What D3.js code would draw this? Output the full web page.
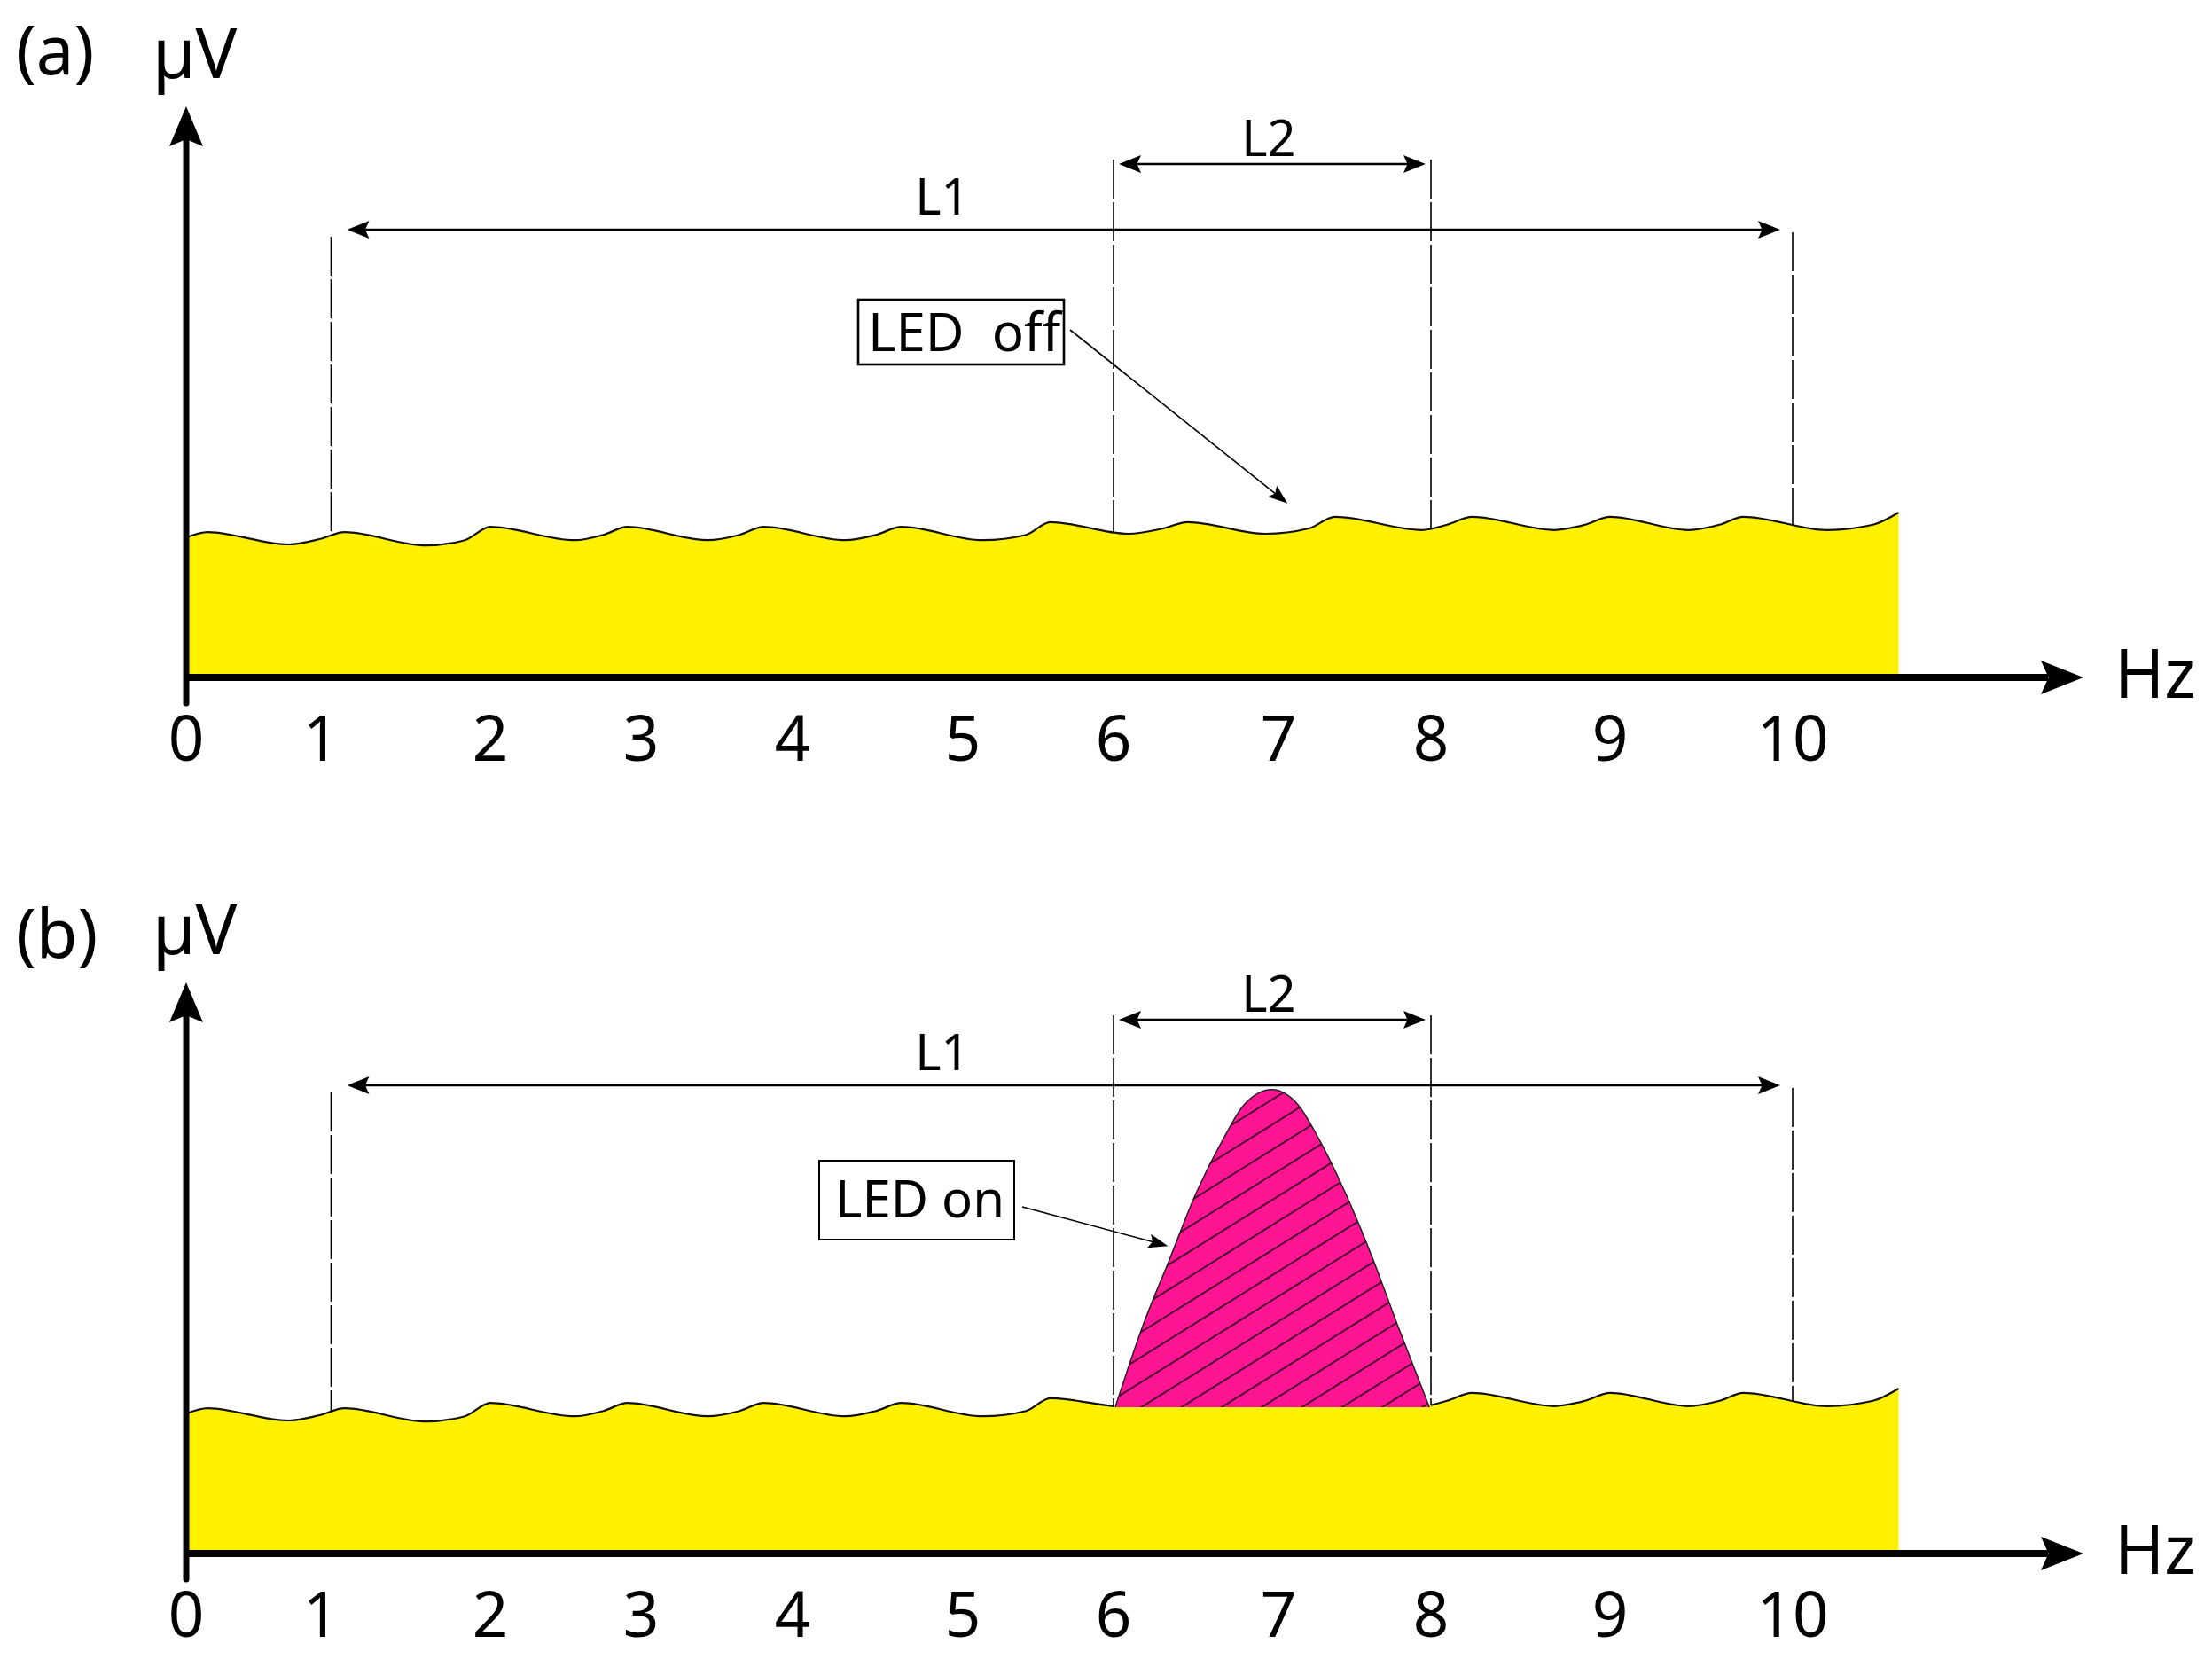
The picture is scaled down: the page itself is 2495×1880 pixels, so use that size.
<!DOCTYPE html>
<html>
<head>
<meta charset="utf-8">
<title>LED off / LED on spectrum</title>
<script src="https://cdn.jsdelivr.net/npm/d3@7/dist/d3.min.js"></script>
<style>
  body { margin: 0; background: #fff; }
  text { font-family: "Noto Sans", "Open Sans", sans-serif; fill: #000; }
</style>
</head>
<body>
<svg width="2495" height="1880"></svg>
<script>
// Hz tick labels; the drawing spaces them unevenly, so each one has its own x
const hzTicks = [0, 1, 2, 3, 4, 5, 6, 7, 8, 9, 10];
const hzTickX = [210, 362, 553, 723, 894, 1086, 1256, 1442, 1614, 1816, 2022];

// background level (yellow), same in both panels: Hz / µV
const noiseHz = [0, 0.16, 0.76, 0.99, 1.14, 1.62, 1.85, 2.00, 2.56, 2.75, 2.91,
  3.44, 3.65, 3.81, 4.31, 4.49, 4.64, 5.13, 5.42, 5.58, 6.09, 6.30, 6.45,
  6.92, 7.20, 7.37, 7.94, 8.09, 8.23, 8.69, 8.86, 9.00, 9.43, 9.60, 9.73,
  10.19, 10.44, 10.58];
const noiseLevel = [2.63, 2.73, 2.50, 2.60, 2.73, 2.48, 2.58, 2.83, 2.58, 2.68, 2.83,
  2.58, 2.68, 2.83, 2.58, 2.68, 2.83, 2.58, 2.68, 2.92, 2.70, 2.80, 2.92,
  2.70, 2.80, 3.02, 2.77, 2.87, 3.02, 2.77, 2.87, 3.02, 2.77, 2.87, 3.02,
  2.77, 2.87, 3.10];

// response with the LED on (magenta), panel (b)
const peakHz = [6.01, 6.18, 6.34, 6.50, 6.67, 6.79, 6.96, 7.13, 7.26, 7.44, 7.62, 7.78, 7.99];
const peakLevel = [2.75, 4.30, 5.53, 6.77, 7.82, 8.43, 8.72, 8.43, 7.82, 6.77, 5.53, 4.30, 2.75];

// measured bands
const bandL1 = [1.06, 10];
const bandL2 = [6, 8];

const W = 2495, H = 1880;
const YELLOW = '#fff100', PINK = '#ff1493';

const svg = d3.select('svg');
svg.append('rect').attr('width', W).attr('height', H).attr('fill', '#fff');

const x = d3.scaleLinear().domain(hzTicks).range(hzTickX);

const defs = svg.append('defs');
const hatch = defs.append('pattern')
    .attr('id', 'hatch')
    .attr('patternUnits', 'userSpaceOnUse')
    .attr('width', 24).attr('height', 24)
    .attr('patternTransform', 'rotate(-32)');
hatch.append('rect').attr('width', 24).attr('height', 24).attr('fill', PINK);
hatch.append('line')
    .attr('x1', 0).attr('y1', 12).attr('x2', 24).attr('y2', 12)
    .attr('stroke', '#000').attr('stroke-width', 1.4);

const panels = [
  { tag: '(a)', tagY: 84, unitY: 88, axisY: 764, l1Y: 259, l2Y: 185, led: false,
    box: { x: 968, y: 338, w: 232, h: 73, sw: 2.6, text: 'LED\u00a0\u00a0off', tx: 979, ty: 396, fs: 60 },
    from: [1207, 372], to: [7.06, 3.27] },
  { tag: '(b)', tagY: 1080, unitY: 1076, axisY: 1752, l1Y: 1224, l2Y: 1150, led: true,
    box: { x: 924, y: 1309, w: 220, h: 89, sw: 2, text: 'LED on', tx: 942, ty: 1373, fs: 58 },
    from: [1153, 1361], to: [6.33, 5.78] }
];

// filled arrow head with a slight notch, tip at (tx,ty) pointing along angle
function head(g, tx, ty, angle, len, half) {
  g.append('path')
    .attr('d', `M0,0 L${-len},${-half} L${-len * 0.82},0 L${-len},${half} Z`)
    .attr('transform', `translate(${tx},${ty}) rotate(${angle * 180 / Math.PI})`)
    .attr('fill', '#000');
}

panels.forEach((p, pi) => {
  const g = svg.append('g');
  const y = d3.scaleLinear().domain([0, 10]).range([p.axisY, p.axisY - 600]);
  const onset = peakLevel[0];

  const noise = noiseHz.map((h, i) => {
    let v = noiseLevel[i];
    // under the LED response the background is flat at its foot
    if (p.led && h > bandL2[0] && h < bandL2[1]) v = Math.max(v, onset);
    return [h, v];
  });

  // dashed guide lines
  const guides = [
    { hz: bandL1[0], top: p.l1Y + 8 },
    { hz: bandL1[1], top: p.l1Y + 3 },
    { hz: bandL2[0], top: p.l2Y - 5 },
    { hz: bandL2[1], top: p.l2Y - 5 }
  ];
  g.selectAll('line.guide').data(guides).join('line')
      .attr('class', 'guide')
      .attr('x1', d => x(d.hz)).attr('x2', d => x(d.hz))
      .attr('y1', d => d.top).attr('y2', p.axisY)
      .attr('stroke', '#000').attr('stroke-width', 1.6)
      .attr('stroke-dasharray', '44,4');

  // yellow background
  g.append('path')
      .datum(noise)
      .attr('d', d3.area()
          .x(d => x(d[0])).y0(p.axisY).y1(d => y(d[1]))
          .curve(d3.curveMonotoneX))
      .attr('fill', YELLOW);

  const clipId = 'clip' + pi;
  const clip = defs.append('clipPath').attr('id', clipId);
  if (p.led) {
    clip.append('rect').attr('x', 0).attr('y', 0).attr('width', x(bandL2[0])).attr('height', H);
    clip.append('rect').attr('x', x(bandL2[1])).attr('y', 0).attr('width', W).attr('height', H);
  } else {
    clip.append('rect').attr('width', W).attr('height', H);
  }
  g.append('path')
      .datum(noise)
      .attr('clip-path', `url(#${clipId})`)
      .attr('d', d3.line().x(d => x(d[0])).y(d => y(d[1])).curve(d3.curveMonotoneX))
      .attr('fill', 'none').attr('stroke', '#111').attr('stroke-width', 2.2);

  // LED response
  if (p.led) {
    const peak = peakHz.map((h, i) => [h, peakLevel[i]]);
    g.append('path')
        .datum(peak)
        .attr('d', d3.area()
            .x(d => x(d[0])).y0(y(onset)).y1(d => y(d[1]))
            .curve(d3.curveMonotoneX))
        .attr('fill', 'url(#hatch)');
    g.append('path')
        .datum(peak)
        .attr('d', d3.line().x(d => x(d[0])).y(d => y(d[1])).curve(d3.curveMonotoneX))
        .attr('fill', 'none').attr('stroke', '#222').attr('stroke-width', 1.5);
  }

  // axes
  const x0 = x(0);
  const arrowX = 2350;
  g.append('line')
      .attr('x1', x0).attr('x2', arrowX - 40)
      .attr('y1', p.axisY).attr('y2', p.axisY)
      .attr('stroke', '#000').attr('stroke-width', 8);
  head(g, arrowX, p.axisY, 0, 48, 19);

  const arrowY = p.axisY - 644;
  g.append('line')
      .attr('x1', x0).attr('x2', x0)
      .attr('y1', p.axisY + 29).attr('y2', arrowY + 38)
      .attr('stroke', '#000').attr('stroke-width', 7)
      .attr('stroke-linecap', 'round');
  head(g, x0, arrowY, -Math.PI / 2, 45, 19);

  g.selectAll('text.tick').data(hzTicks).join('text')
      .attr('class', 'tick')
      .attr('x', d => x(d)).attr('y', p.axisY + 94)
      .attr('text-anchor', 'middle')
      .attr('font-size', 71)
      .text(d => d);

  g.append('text').attr('x', 2385).attr('y', p.axisY + 23)
      .attr('font-size', 76).text('Hz');
  g.append('text').attr('x', 18).attr('y', p.tagY)
      .attr('font-size', 76).text(p.tag);
  g.append('text').attr('x', 172).attr('y', p.unitY)
      .attr('font-size', 78).text('µV');

  // dimension lines L1 and L2
  const dims = [
    { name: 'L1', band: bandL1, y: p.l1Y, inset: [18, 14], labelHz: 4.88 },
    { name: 'L2', band: bandL2, y: p.l2Y, inset: [6, 6], labelHz: 6.94 }
  ];
  dims.forEach(d => {
    const a = x(d.band[0]) + d.inset[0], b = x(d.band[1]) - d.inset[1];
    g.append('line')
        .attr('x1', a + 10).attr('x2', b - 10)
        .attr('y1', d.y).attr('y2', d.y)
        .attr('stroke', '#000').attr('stroke-width', 2.6);
    head(g, a, d.y, Math.PI, 25, 10);
    head(g, b, d.y, 0, 25, 10);
    g.append('text')
        .attr('x', x(d.labelHz)).attr('y', d.y - 9)
        .attr('text-anchor', 'middle')
        .attr('font-size', 56)
        .text(d.name);
  });
  // L1 label sits higher above its line
  g.selectAll('text').filter(function () { return d3.select(this).text() === 'L1'; })
      .attr('y', p.l1Y - 17);

  // callout box and arrow
  const bx = p.box;
  g.append('rect')
      .attr('x', bx.x).attr('y', bx.y).attr('width', bx.w).attr('height', bx.h)
      .attr('fill', '#fff').attr('stroke', '#000').attr('stroke-width', bx.sw);
  g.append('text')
      .attr('x', bx.tx).attr('y', bx.ty)
      .attr('font-size', bx.fs)
      .text(bx.text);

  const tx = x(p.to[0]), ty = y(p.to[1]);
  const ang = Math.atan2(ty - p.from[1], tx - p.from[0]);
  g.append('line')
      .attr('x1', p.from[0]).attr('y1', p.from[1])
      .attr('x2', tx - 18 * Math.cos(ang)).attr('y2', ty - 18 * Math.sin(ang))
      .attr('stroke', '#000').attr('stroke-width', 1.6);
  head(g, tx, ty, ang, 22, 8);
});
</script>
</body>
</html>
